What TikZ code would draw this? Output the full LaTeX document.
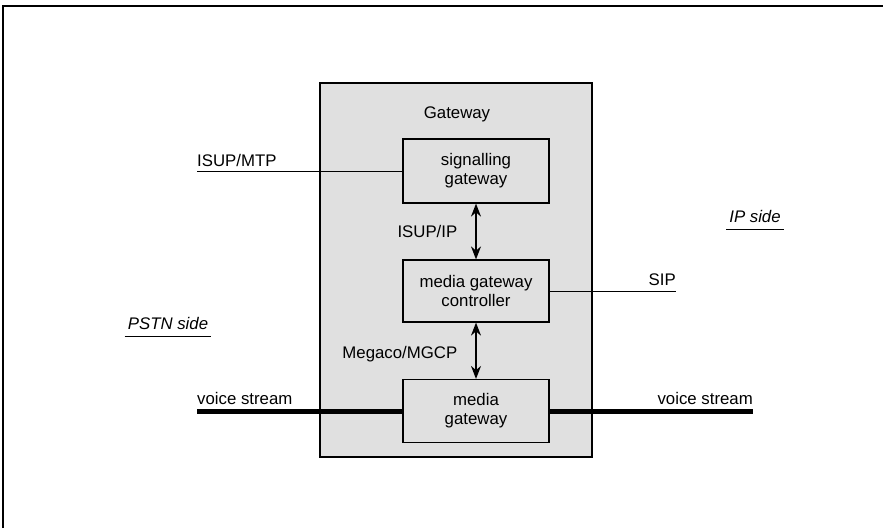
\documentclass[tikz,border=0pt]{standalone}
\usepackage{fontspec}
\setmainfont{Liberation Sans}
\usetikzlibrary{arrows.meta}

\begin{document}
\begin{tikzpicture}[x=1pt,y=-1pt,
    font=\fontsize{16.8}{19}\selectfont,
    shade/.style={draw,line width=1.2pt,fill=black!12},
    box/.style={shade,align=center,minimum width=146pt},
    lbl/.style={inner sep=0pt},
    side/.style={inner xsep=3pt,inner ysep=7pt,font=\fontsize{16.8}{19}\selectfont\itshape},
    stream/.style={line width=5pt},
    sig/.style={{Stealth[length=13pt,width=10pt]}-{Stealth[length=13pt,width=10pt]},line width=1.5pt}]
    \useasboundingbox (0,0) rectangle (883,528);
    \draw [line width=1.2pt] (3,528) -- (3,6) -- (883,6);
    \node [shade,minimum width=272pt,minimum height=374pt] (gw) at (456,270) {};
    \node [lbl,anchor=base] (gwl) at (457,118) {Gateway};
    \node [box,minimum height=64pt] (sg)  at (476,171) {signalling\\gateway};
    \node [box,minimum height=62pt] (mgc) at (476,291) {media gateway\\controller};
    \node [box,minimum height=63pt] (mg)  at (476,411) {media\\gateway};
    \coordinate (mtp) at (197,171);
    \coordinate (sip) at (676,291);
    \coordinate (vl) at (197,411);
    \coordinate (vr) at (753,411);
    \node [lbl,anchor=base west] (mtpl) at (197,166) {ISUP/MTP};
    \node [lbl,anchor=base east] (sipl) at (676,285) {SIP};
    \node [lbl,anchor=base west] (vll) at (197,404) {voice stream};
    \node [lbl,anchor=base east] (vrl) at (753,404) {voice stream};
    \node [side,anchor=base] (pstn) at (168,329) {PSTN side};
    \node [side,anchor=base] (ip) at (755,222) {IP side};
    \draw [line width=1pt] (pstn.south west) -- (pstn.south east);
    \draw [line width=1pt] (ip.south west) -- (ip.south east);
    \draw [line width=1pt] (mtp) -- (sg);
    \draw [line width=1pt] (mgc) -- (sip);
    \draw [stream] (vl) -- (mg);
    \draw [stream] (mg) -- (vr);
    \draw [sig] (sg) to node [lbl,left=18pt] {ISUP/IP} (mgc);
    \draw [sig] (mgc) to node [lbl,left=18pt,yshift=-3pt] {Megaco/MGCP} (mg);
\end{tikzpicture}
\end{document}
